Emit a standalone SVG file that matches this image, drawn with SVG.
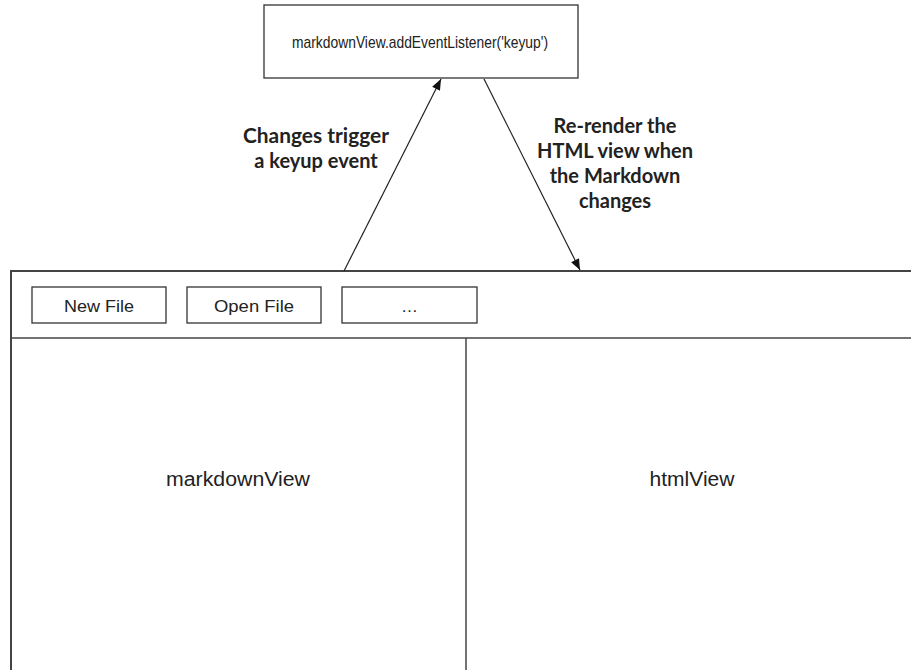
<svg xmlns="http://www.w3.org/2000/svg" width="911" height="670" viewBox="0 0 911 670">
<style>
.box{fill:#fff;stroke:#333;stroke-width:1.3}
.frame{fill:none;stroke:#444;stroke-width:2}
.t{font-family:"Liberation Sans",Arial,sans-serif;fill:#222;text-anchor:middle}
.lbl{font-family:Lato,"Open Sans",sans-serif;font-weight:bold;font-size:20px;fill:#222;text-anchor:middle}
.c{stroke:#222;stroke-width:1.2;fill:none}
</style>
<defs>
<marker id="ah" viewBox="0 0 10 10" refX="10" refY="5" markerWidth="11" markerHeight="11" markerUnits="userSpaceOnUse" orient="auto">
<path d="M0,1 L10,5 L0,9 Z" fill="#111"/>
</marker>
</defs>
<rect width="911" height="670" fill="#fff"/>
<g id="listener">
<rect class="box" x="264" y="5" width="314" height="73"/>
<text class="t" x="420" y="48" font-size="17" textLength="256" lengthAdjust="spacingAndGlyphs">markdownView.addEventListener('keyup')</text>
</g>
<g id="window">
<path class="frame" d="M912,271 H11 V671"/>
<line x1="11" y1="338" x2="912" y2="338" stroke="#444" stroke-width="1.5"/>
</g>
<g id="newfile">
<rect class="box" x="32" y="287" width="134" height="36"/>
<text class="t" x="99" y="312" font-size="17" textLength="70" lengthAdjust="spacingAndGlyphs">New File</text>
</g>
<g id="openfile">
<rect class="box" x="187" y="287" width="134" height="36"/>
<text class="t" x="254" y="312" font-size="17" textLength="80" lengthAdjust="spacingAndGlyphs">Open File</text>
</g>
<g id="more">
<rect class="box" x="342" y="287" width="135" height="36"/>
<text class="t" x="409.5" y="312" font-size="17">…</text>
</g>
<g id="markdownView">
<text class="t" x="238" y="486" font-size="20" textLength="144" lengthAdjust="spacingAndGlyphs">markdownView</text>
</g>
<g id="htmlView">
<line x1="466" y1="338" x2="466" y2="671" stroke="#444" stroke-width="1.5"/>
<text class="t" x="692" y="486" font-size="20" textLength="85" lengthAdjust="spacingAndGlyphs">htmlView</text>
</g>
<g id="connectors">
<line class="c" x1="344" y1="271" x2="441" y2="79" marker-end="url(#ah)"/>
<line class="c" x1="484" y1="79" x2="580" y2="270" marker-end="url(#ah)"/>
</g>
<g id="labels">
<text class="lbl" x="316" y="143" textLength="146" lengthAdjust="spacingAndGlyphs">Changes trigger</text>
<text class="lbl" x="316" y="168">a keyup event</text>
<text class="lbl" x="615" y="133">Re-render the</text>
<text class="lbl" x="615" y="158">HTML view when</text>
<text class="lbl" x="615" y="183">the Markdown</text>
<text class="lbl" x="615" y="208">changes</text>
</g>
</svg>
